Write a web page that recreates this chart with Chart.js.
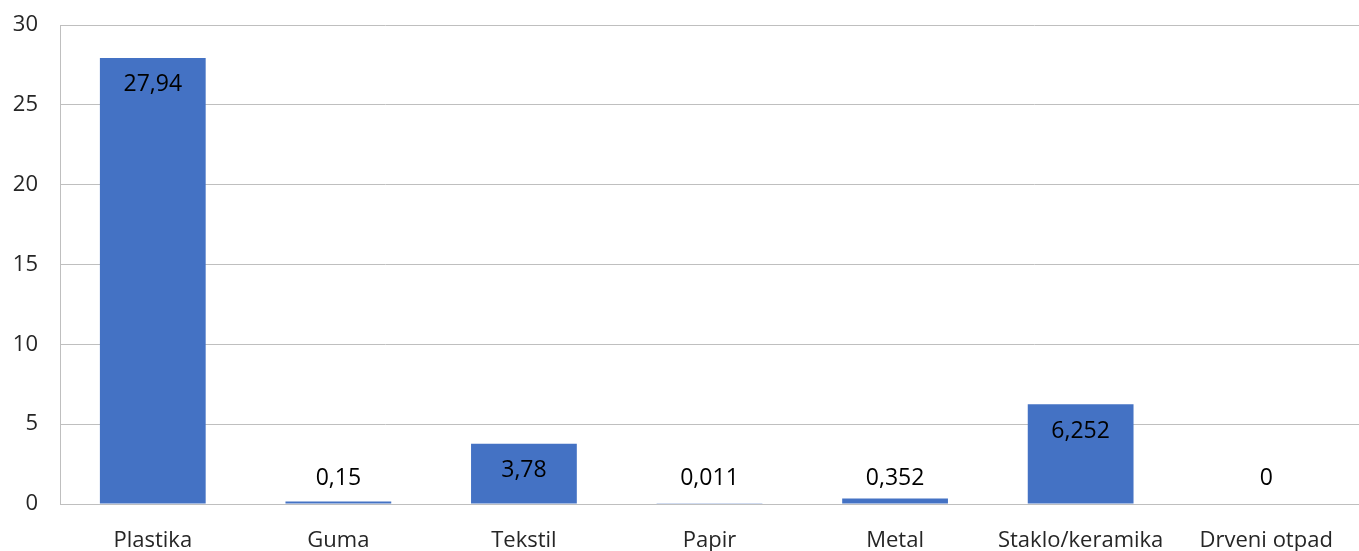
<!DOCTYPE html>
<html>
<head>
<meta charset="utf-8">
<script src="https://cdn.jsdelivr.net/npm/chart.js"></script>
<style>
    html, body { margin: 0; padding: 0; background: #fff; }
    #wrap { width: 1359px; height: 551px; }
</style>
</head>
<body>
<div id="wrap"><canvas id="wasteChart"></canvas></div>
<script>
const categories = ['Plastika', 'Guma', 'Tekstil', 'Papir', 'Metal', 'Staklo/keramika', 'Drveni otpad'];
const values = [27.94, 0.15, 3.78, 0.011, 0.352, 6.252, 0];
const valueLabels = ['27,94', '0,15', '3,78', '0,011', '0,352', '6,252', '0'];
const yTicks = [0, 5, 10, 15, 20, 25, 30];

// ispisuje vrijednosti iznad ili unutar stupca, kao u Excelu
const valueLabelPlugin = {
    id: 'valueLabels',
    afterDatasetsDraw(chart) {
        const ctx = chart.ctx;
        const meta = chart.getDatasetMeta(0);
        const yScale = chart.scales.y;
        ctx.save();
        ctx.font = '23px "Open Sans"';
        ctx.fillStyle = '#000';
        ctx.textAlign = 'center';
        ctx.textBaseline = 'middle';
        meta.data.forEach((bar, i) => {
            const h = yScale.getPixelForValue(0) - bar.y;
            let y;
            if (h > 40) {
                y = bar.y + 27;
            } else {
                y = yScale.getPixelForValue(0) - 26;
            }
            ctx.fillText(valueLabels[i], bar.x, y);
        });
        ctx.restore();
    }
};

new Chart(document.getElementById('wasteChart'), {
    type: 'bar',
    data: {
        labels: categories,
        datasets: [{
            data: values,
            backgroundColor: '#4472C4',
            borderWidth: 0,
            categoryPercentage: 1,
            barPercentage: 0.57
        }]
    },
    options: {
        responsive: true,
        maintainAspectRatio: false,
        animation: false,
        layout: { padding: { left: 10, right: -4, top: 25, bottom: 0 } },
        plugins: {
            legend: { display: false },
            tooltip: { enabled: false }
        },
        scales: {
            x: {
                grid: { display: false },
                border: { display: true, color: '#bfbfbf', width: 1 },
                afterFit: (scale) => {
                    scale.height = 47;
                    scale.paddingLeft = 0;
                    scale.paddingRight = 0;
                },
                ticks: {
                    color: '#262626',
                    font: { family: 'Open Sans', size: 22 },
                    padding: 16,
                    maxRotation: 0
                }
            },
            y: {
                min: 0,
                max: 30,
                afterBuildTicks: (scale) => {
                    scale.ticks = yTicks.map(v => ({ value: v }));
                },
                afterFit: (scale) => {
                    scale.width = 50;
                    scale.paddingTop = 0;
                    scale.paddingBottom = 0;
                },
                grid: { color: '#bfbfbf', lineWidth: 1, drawTicks: false },
                border: { display: true, color: '#bfbfbf', width: 1 },
                ticks: {
                    color: '#262626',
                    font: { family: 'Open Sans', size: 22 },
                    padding: 22
                }
            }
        }
    },
    plugins: [valueLabelPlugin]
});
</script>
</body>
</html>
